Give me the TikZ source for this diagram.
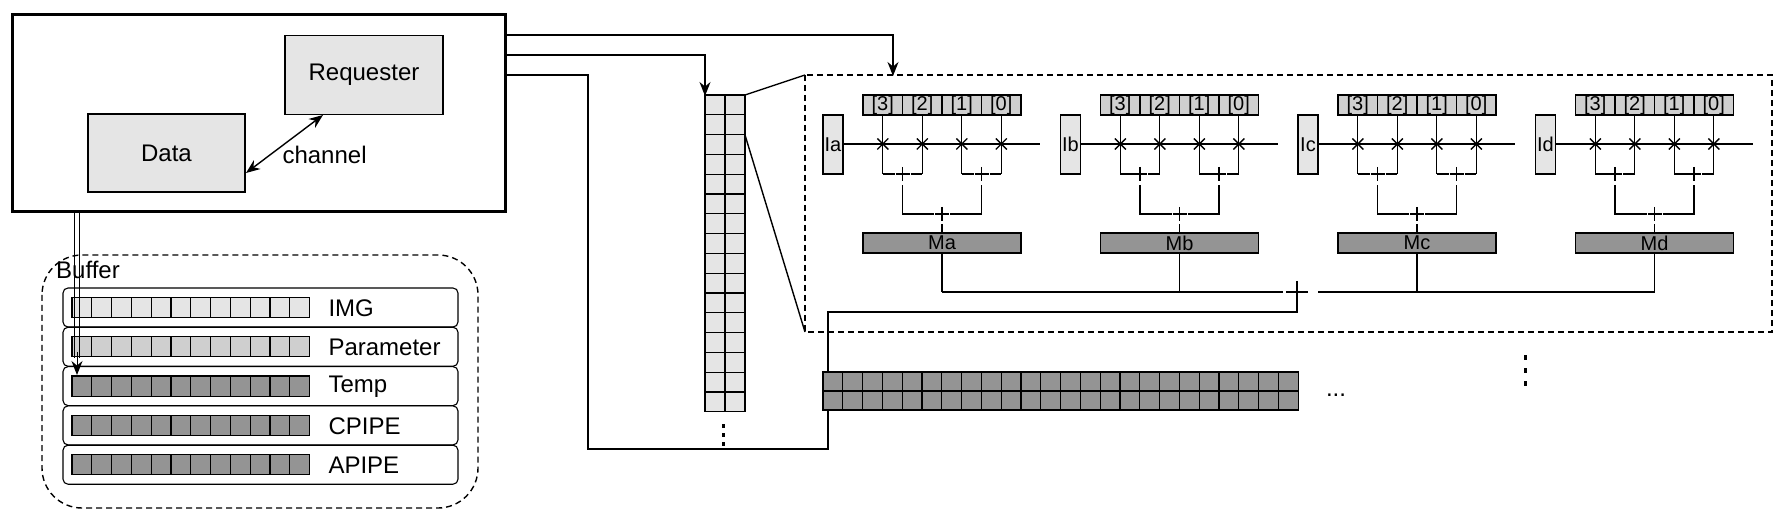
\documentclass[tikz,border=0pt]{standalone}
\usepackage{fontspec}
\setmainfont{Liberation Sans}
\usetikzlibrary{arrows.meta}
\begin{document}
\begin{tikzpicture}[x=1pt,y=-1pt,
  lbl/.style={font=\fontsize{24}{26}\selectfont},
  sm/.style={font=\fontsize{20}{22}\selectfont, inner sep=0pt},
  ln/.style={line width=1.4pt},
  tip/.tip={Stealth[length=14pt,width=11pt]},
  arr/.style={ln,-tip},
  gbox/.style={draw, line width=1.1pt, fill=black!10, inner sep=0pt},
  dgray/.style={fill=black!42},
  lgray/.style={fill=black!10},
  mgray/.style={fill=black!19}]
\useasboundingbox (0,0) rectangle (1788,526);
% main box
\draw[line width=3pt] (12,15) rectangle (505,212);
\node[gbox, minimum width=158pt, minimum height=79pt, lbl] (req) at (364,75) {Requester};
\node[gbox, minimum width=157pt, minimum height=78pt, lbl] (data) at (166.5,153) {Data};
\draw[ln,tip-tip] (246,173) -- (323,115);
\node[lbl, anchor=west] (chan) at (279,155) {channel};
% connectors from main box
\coordinate (o1) at (505,35); \coordinate (o2) at (505,55); \coordinate (o3) at (505,75);
\draw[arr] (o1) -- (893,35) -- (893,76);
\draw[arr] (o2) -- (705,55) -- (705,96);
\draw[ln] (o3) -- (588,75) -- (588,449) -- (828,449) -- (828,312) -- (1297,312) -- (1297,298);
% column
\foreach \i in {0,...,15}{
  \draw[line width=1.1pt, lgray] (705,95+\i*19.8) rectangle (725,95+\i*19.8+19.8);
  \draw[line width=1.1pt, lgray] (725,95+\i*19.8) rectangle (745,95+\i*19.8+19.8);
}
\foreach \y in {424,433,442} \fill (722,\y) rectangle (724.5,\y+4);
\coordinate (ct) at (745,95); \coordinate (cb) at (745,135);
\draw[ln] (ct) -- (805,75);
\draw[ln] (cb) -- (805,332);
% dashed box
\draw[ln, dashed, dash pattern=on 6pt off 4pt] (805,75) rectangle (1772,332);
% units
\foreach \n [count=\k from 0] in {a,b,c,d}{
  \begin{scope}[xshift=\k*237.5]
  \node[gbox, minimum width=20pt, minimum height=59pt, sm] (I\n) at (833,144.5) {I\n};
  \foreach \c/\t in {0/3,1/2,2/1,3/0}{
    \draw[line width=1.1pt, mgray] (863+\c*39.5,95) rectangle (863+\c*39.5+39.5,115);
    \node[sm] at (882.75+\c*39.5,105) {[\t]};
    \draw[ln] (882.75+\c*39.5,115) -- (882.75+\c*39.5,174);
    \draw[line width=1.4pt] (877.25+\c*39.5,138.5) -- (888.25+\c*39.5,149.5) (877.25+\c*39.5,149.5) -- (888.25+\c*39.5,138.5);
  }
  \draw[ln] (843,144) -- (1040,144);
  \foreach \p in {0,2}{
    \draw[ln] (882.75+\p*39.5,174) -- (895+\p*39.5,174);
    \draw[ln] (910.5+\p*39.5,174) -- (922.25+\p*39.5,174);
    \draw[line width=1.5pt] (902.5+\p*39.5,167) -- (902.5+\p*39.5,181) (895.5+\p*39.5,174) -- (909.5+\p*39.5,174);
  }
  \draw[ln] (902.5,185) -- (902.5,214) -- (934,214);
  \draw[ln] (950,214) -- (981.5,214) -- (981.5,185);
  \draw[line width=1.5pt] (942,207) -- (942,221) (935,214) -- (949,214);
  \draw[ln] (942,224) -- (942,233);
  \node[draw, line width=1.1pt, dgray, minimum width=158pt, minimum height=20pt, inner sep=0pt, font=\fontsize{20}{22}\selectfont] (M\n) at (942,243) {M\n};
  \draw[ln] (M\n.south) -- (942,292);
  \end{scope}
}
\draw[ln] (Ma.south |- 0,292) -- (1283,292);
\draw[ln] (1318,292) -- (Md.south |- 0,292);
\draw[line width=2pt] (1297,281) -- (1297,303) (1286,292) -- (1308,292);
% big grid
\foreach \i in {0,...,23}\foreach \r in {0,1}
  \draw[line width=1.1pt, dgray] (823+\i*19.8,372+\r*19) rectangle (823+\i*19.8+19.8,372+\r*19+19);
\node[lbl] (dots) at (1336,395) {...};
\foreach \y in {355,368,381} \fill (1524,\y) rectangle (1527,\y+5);
% buffer
\draw[ln, dashed, dash pattern=on 6pt off 4pt, rounded corners=40pt] (42,255) rectangle (478,508);
\node[lbl, anchor=west, inner sep=0pt] (buf) at (56,270) {Buffer};
\foreach \nm/\st [count=\r from 0] in {IMG/lgray,Parameter/mgray,Temp/dgray,CPIPE/dgray,APIPE/dgray}{
  \draw[line width=1.1pt, rounded corners=5pt] (63,288+\r*39.3) rectangle (458,327+\r*39.3);
  \foreach \i in {0,...,11}
    \draw[line width=1.2pt, \st] (72+\i*19.8,297.5+\r*39.3) rectangle (72+\i*19.8+19.8,317.5+\r*39.3);
  \node[lbl, anchor=west] (b\r) at (325,308+\r*39.3) {\nm};
}
% double connector to buffer
\draw[line width=1pt] (74.5,212) -- (74.5,358);
\draw[line width=1pt] (79.5,212) -- (79.5,358);
\draw[-tip, line width=1pt] (77,352) -- (77,375);
\end{tikzpicture}
\end{document}
